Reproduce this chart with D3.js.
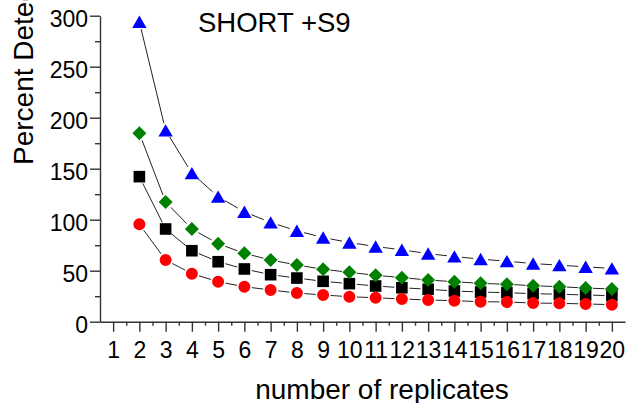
<!DOCTYPE html>
<html>
<head>
<meta charset="utf-8">
<script src="https://cdn.jsdelivr.net/npm/d3@7"></script>
<style>
  body { margin: 0; background: #fff; }
  svg { display: block; font-family: "Liberation Sans", Arial, sans-serif; }
</style>
</head>
<body>
<div id="chart"></div>
<script>
// replicates on the x axis
const reps = [2, 3, 4, 5, 6, 7, 8, 9, 10, 11, 12, 13, 14, 15, 16, 17, 18, 19, 20];
const xTicks = [1, 2, 3, 4, 5, 6, 7, 8, 9, 10, 11, 12, 13, 14, 15, 16, 17, 18, 19, 20];
const yTicks = [0, 50, 100, 150, 200, 250, 300];
const yMinor = [25, 75, 125, 175, 225, 275];

// percent detectable difference, one array per curve
const blueVals = [294, 187.5, 145.6, 122.5, 107.7, 97.3, 89.1, 82.5, 77.6, 73.7, 70.5, 66.7, 63.9, 61.3, 59.3, 57, 55.4, 53.8, 52.2];
const greenVals = [184.7, 117.4, 90.9, 76.5, 67, 60.5, 55.6, 51.4, 48.4, 45.5, 43.2, 40.9, 39.2, 37.6, 36.7, 35.3, 34.3, 33, 32.1];
const blackVals = [142.2, 90.9, 69.6, 58.8, 51.7, 46.1, 42.8, 39.6, 37.3, 35, 33.3, 31.8, 30.1, 29.1, 28.4, 27.5, 26.9, 26.2, 25.5];
const redVals = [95.5, 60.5, 47.1, 39.2, 34.3, 31.1, 28.1, 26.2, 24.5, 23.5, 22.3, 21.3, 20.6, 19.6, 19.3, 18.3, 18, 17.4, 16.7];

const title = 'SHORT +S9';
const xTitle = 'number of replicates';
const yTitle = 'Percent Detectable Difference';

const svgWidth = 640;
const svgHeight = 403;

const svg = d3.select('#chart').append('svg')
  .attr('width', svgWidth)
  .attr('height', svgHeight);

const x = d3.scaleLinear().domain([0.5, 20.5]).range([100, 625]);
const y = d3.scaleLinear().domain([0, 300]).range([321.7, 15.7]);

const axisColor = '#333';

// y axis
const gy = svg.append('g')
  .attr('transform', `translate(${ x.range()[0] },0)`)
  .call(d3.axisLeft(y).tickValues(yTicks).tickSize(10).tickSizeOuter(0).tickPadding(2));
gy.selectAll('.tick text')
  .attr('font-size', 23)
  .attr('dy', '0.45em')
  .attr('fill', '#000');
gy.append('g')
  .call(d3.axisLeft(y).tickValues(yMinor).tickSize(5).tickFormat(''))
  .select('.domain').remove();

// x axis
const gx = svg.append('g')
  .attr('transform', `translate(0,${ y(0) })`)
  .call(d3.axisBottom(x).tickValues(xTicks).tickSize(10).tickSizeOuter(0).tickPadding(4));
gx.selectAll('.tick text')
  .attr('font-size', 23)
  .attr('dy', '0.95em')
  .attr('fill', '#000');
gx.append('g')
  .call(d3.axisBottom(x).tickValues(xTicks.map(d => d + 0.5).slice(0, 19)).tickSize(4).tickFormat(''))
  .select('.domain').remove();

svg.selectAll('.domain, .tick line')
  .attr('stroke', axisColor)
  .attr('stroke-width', 1.4);

// titles
svg.append('text')
  .attr('x', 198)
  .attr('y', 32)
  .attr('font-size', 27.5)
  .text(title);

svg.append('text')
  .attr('x', 382)
  .attr('y', 399)
  .attr('text-anchor', 'middle')
  .attr('font-size', 28)
  .text(xTitle);

svg.append('text')
  .attr('transform', 'translate(33,165) rotate(-90)')
  .attr('font-size', 28)
  .text(yTitle);

// series: connecting segments stop short of the markers
const gap = 7.5;
const series = [
  { vals: blackVals, color: '#000', shape: 'square' },
  { vals: blueVals, color: '#0000ff', shape: 'triangle' },
  { vals: redVals, color: '#ff0000', shape: 'circle' },
  { vals: greenVals, color: '#008000', shape: 'diamond' },
];

function markerPath(shape) {
  if (shape === 'circle') return d3.symbol(d3.symbolCircle, 113)();
  if (shape === 'square') return 'M-5.8,-5.8H5.8V5.8H-5.8Z';
  if (shape === 'diamond') return 'M0,-7L7,0L0,7L-7,0Z';
  return 'M0,-6.3L7.2,6.1H-7.2Z';
}

const lineLayer = svg.append('g');
const markLayer = svg.append('g');

series.forEach(s => {
  const pts = reps.map((r, i) => [x(r), y(s.vals[i])]);
  const segs = d3.pairs(pts).map(([a, b]) => {
    const dx = b[0] - a[0];
    const dy = b[1] - a[1];
    const len = Math.hypot(dx, dy);
    const ux = dx / len;
    const uy = dy / len;
    return [a[0] + ux * gap, a[1] + uy * gap, b[0] - ux * gap, b[1] - uy * gap];
  });

  lineLayer.selectAll(null)
    .data(segs)
    .join('line')
    .attr('x1', d => d[0])
    .attr('y1', d => d[1])
    .attr('x2', d => d[2])
    .attr('y2', d => d[3])
    .attr('stroke', '#222')
    .attr('stroke-width', 1);
});

series.forEach(s => {
  markLayer.selectAll(null)
    .data(reps.map((r, i) => ({ r, v: s.vals[i] })))
    .join('path')
    .attr('transform', d => `translate(${ x(d.r) },${ y(d.v) })`)
    .attr('d', markerPath(s.shape))
    .attr('fill', s.color);
});
</script>
</body>
</html>
